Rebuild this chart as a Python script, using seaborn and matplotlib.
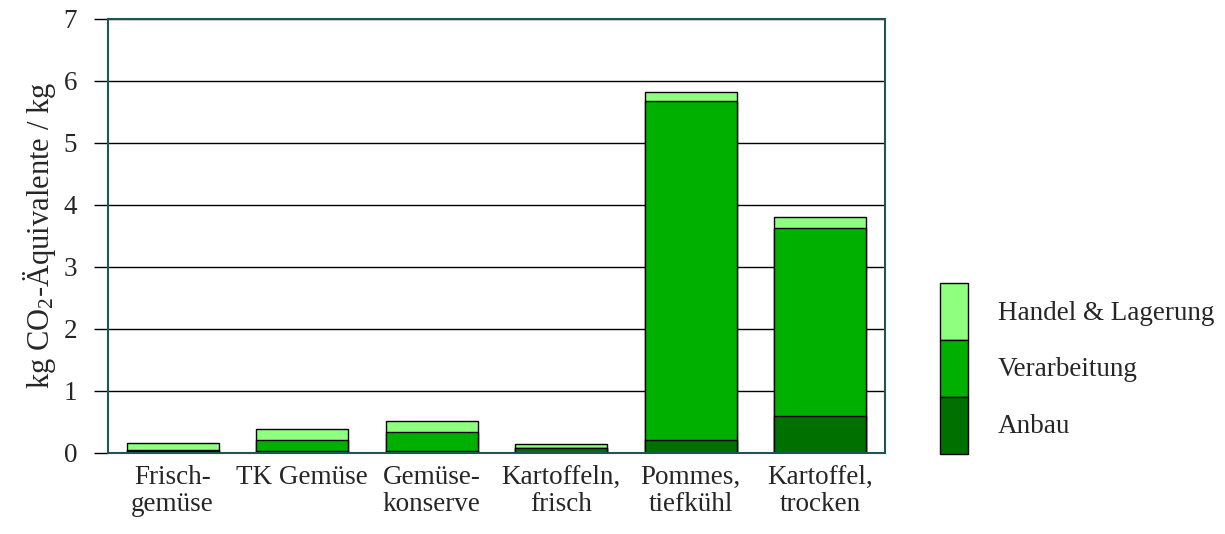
import numpy as np
import pandas as pd
import seaborn as sns
import matplotlib.pyplot as plt
from matplotlib.patches import Patch

sns.set_style('white')
plt.rcParams['font.family'] = ['Liberation Serif', 'DejaVu Serif']
plt.rcParams['mathtext.fontset'] = 'custom'
plt.rcParams['mathtext.rm'] = 'Liberation Serif'
plt.rcParams['mathtext.it'] = 'Liberation Serif:italic'

# data (kg CO2-eq / kg)
categories = ['Frisch-\ngemüse', 'TK Gemüse', 'Gemüse-\nkonserve',
              'Kartoffeln,\nfrisch', 'Pommes,\ntiefkühl', 'Kartoffel,\ntrocken']
anbau = [0.03, 0.03, 0.03, 0.07, 0.20, 0.60]
verarbeitung = [0.01, 0.18, 0.30, 0.01, 5.48, 3.03]
handel = [0.12, 0.17, 0.18, 0.07, 0.13, 0.18]

df = pd.DataFrame({'Kategorie': categories, 'Anbau': anbau,
                   'Verarbeitung': verarbeitung, 'Handel': handel})
df['cum_verarb'] = df['Anbau'] + df['Verarbeitung']
df['cum_total'] = df['cum_verarb'] + df['Handel']

c_anbau = '#007000'
c_verarb = '#00B000'
c_handel = '#8FFF80'
frame = '#1F5555'
fs = 19.5

fig = plt.figure(figsize=(12.25, 5.34), dpi=100)
ax = fig.add_axes([0.088, 0.152, 0.6345, 0.813])

# stacked bars: draw cumulative totals from top down
for col, color in [('cum_total', c_handel), ('cum_verarb', c_verarb), ('Anbau', c_anbau)]:
    sns.barplot(data=df, x='Kategorie', y=col, color=color, width=0.71,
                edgecolor='black', linewidth=1, ax=ax, errorbar=None, saturation=1)

ax.set_ylim(0, 7)
ax.set_xlim(-0.5, 5.5)
ax.set_yticks(range(0, 8))
ax.yaxis.grid(True, color='black', linewidth=1)
ax.set_axisbelow(True)
ax.tick_params(axis='y', direction='out', length=10, width=1, color='black',
               labelsize=fs, pad=12, left=True)
ax.tick_params(axis='x', length=0, labelsize=fs, pad=9)
for lab in ax.get_xticklabels():
    lab.set_multialignment('center')
    lab.set_linespacing(1.1)
for s in ax.spines.values():
    s.set_color(frame)
    s.set_linewidth(1.5)
    s.set_visible(True)

ax.set_xlabel('')
ax.set_ylabel(r'kg CO$_\mathrm{2}$-Äquivalente / kg', fontsize=22, labelpad=4)

handles = [Patch(facecolor=c_handel, edgecolor='black', linewidth=1),
           Patch(facecolor=c_verarb, edgecolor='black', linewidth=1),
           Patch(facecolor=c_anbau, edgecolor='black', linewidth=1)]
labels = ['Handel & Lagerung', 'Verarbeitung', 'Anbau']
fig.legend(handles, labels, loc='center left', bbox_to_anchor=(0.767, 0.31),
           frameon=False, fontsize=fs, handlelength=1.05, handleheight=2.85,
           labelspacing=0, handletextpad=1.1, borderpad=0, borderaxespad=0)

fig.savefig('out.png', dpi=100)
